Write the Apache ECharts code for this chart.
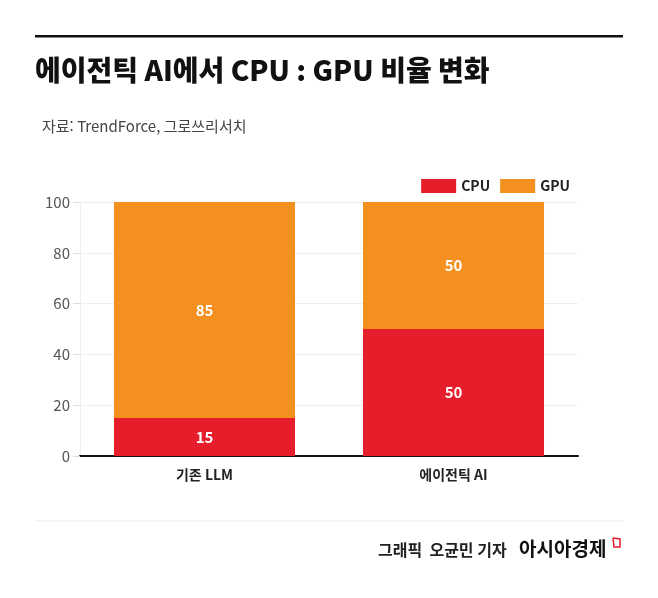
<!DOCTYPE html>
<html lang="ko">
<head>
    <meta charset="UTF-8">
    <title>에이전틱 AI에서 CPU : GPU 비율 변화</title>
    <script src="https://cdn.jsdelivr.net/npm/echarts@6/dist/echarts.min.js"></script>
    <style>
        *{ margin:0; padding:0; }
        html, body { background:#fff; }
        #main { width:658px; height:598px; }
    </style>
</head>
<body>
<div id="main"></div>
<script>
    var categories = ['기존 LLM', '에이전틱 AI'];
    var cpuValues = [15, 50];
    var gpuValues = [85, 50];
    var yTicks = [0, 20, 40, 60, 80, 100];

    var font = '"Noto Sans CJK KR", "Noto Sans", sans-serif';
    var chart = echarts.init(document.getElementById('main'));

    var option = {
        backgroundColor: '#fff',
        textStyle: { fontFamily: font },
        title: [
            {
                text: '에이전틱 AI에서 CPU : GPU 비율 변화',
                left: 30, top: 51,
                textStyle: { fontSize: 28, fontWeight: 900, color: '#111', fontFamily: font }
            },
            {
                text: '자료: TrendForce, 그로쓰리서치',
                left: 37, top: 114,
                textStyle: { fontSize: 15, fontWeight: 'normal', color: '#444', fontFamily: font }
            }
        ],
        legend: {
            data: ['CPU', 'GPU'],
            icon: 'rect',
            right: 83, top: 174,
            itemWidth: 35, itemHeight: 14,
            itemGap: 10,
            selectedMode: false,
            textStyle: { fontSize: 14, fontWeight: 'bold', color: '#222', fontFamily: font }
        },
        grid: { left: 80, right: 80, top: 202, bottom: 142 },
        xAxis: {
            type: 'category',
            data: categories,
            axisLine: { lineStyle: { color: '#111', width: 2 } },
            axisTick: { show: false },
            axisLabel: { fontSize: 14, fontWeight: 'bold', color: '#222', margin: 12, fontFamily: font }
        },
        yAxis: {
            type: 'value',
            min: yTicks[0], max: yTicks[yTicks.length - 1], interval: 20,
            axisLine: { show: true, lineStyle: { color: '#eee' } },
            axisTick: { show: true, length: 7, lineStyle: { color: '#ddd' } },
            splitLine: { lineStyle: { color: '#eee' } },
            axisLabel: { fontSize: 15, color: '#555', margin: 10, fontFamily: font }
        },
        series: [
            {
                name: 'CPU', type: 'bar', stack: 'total',
                data: cpuValues, barWidth: '72.7%',
                itemStyle: { color: '#e61e2b' },
                label: { show: true, color: '#fff', fontSize: 15, fontWeight: 'bold', fontFamily: font }
            },
            {
                name: 'GPU', type: 'bar', stack: 'total',
                data: gpuValues, barWidth: '72.7%',
                itemStyle: { color: '#f39020' },
                label: { show: true, color: '#fff', fontSize: 15, fontWeight: 'bold', fontFamily: font }
            }
        ],
        graphic: [
            { type: 'rect', shape: { x: 35, y: 35, width: 588, height: 2.5 }, style: { fill: '#111' } },
            { type: 'rect', shape: { x: 35, y: 520, width: 588, height: 1.5 }, style: { fill: '#f2f2f2' } },
            {
                type: 'text', left: 378, top: 542,
                style: { text: '그래픽  오균민 기자', fontSize: 16, fontWeight: 'bold', fill: '#222', fontFamily: font }
            },
            {
                type: 'text', left: 519, top: 539,
                style: { text: '아시아경제', fontSize: 19, fontWeight: 'bold', fill: '#111', fontFamily: font }
            },
            {
                type: 'polyline',
                shape: { points: [[613, 538], [620, 539], [620, 547], [614, 547], [613, 538]] },
                style: { stroke: '#e61e2b', lineWidth: 1.5, fill: 'none' }
            }
        ]
    };

    chart.setOption(option);
</script>
</body>
</html>
